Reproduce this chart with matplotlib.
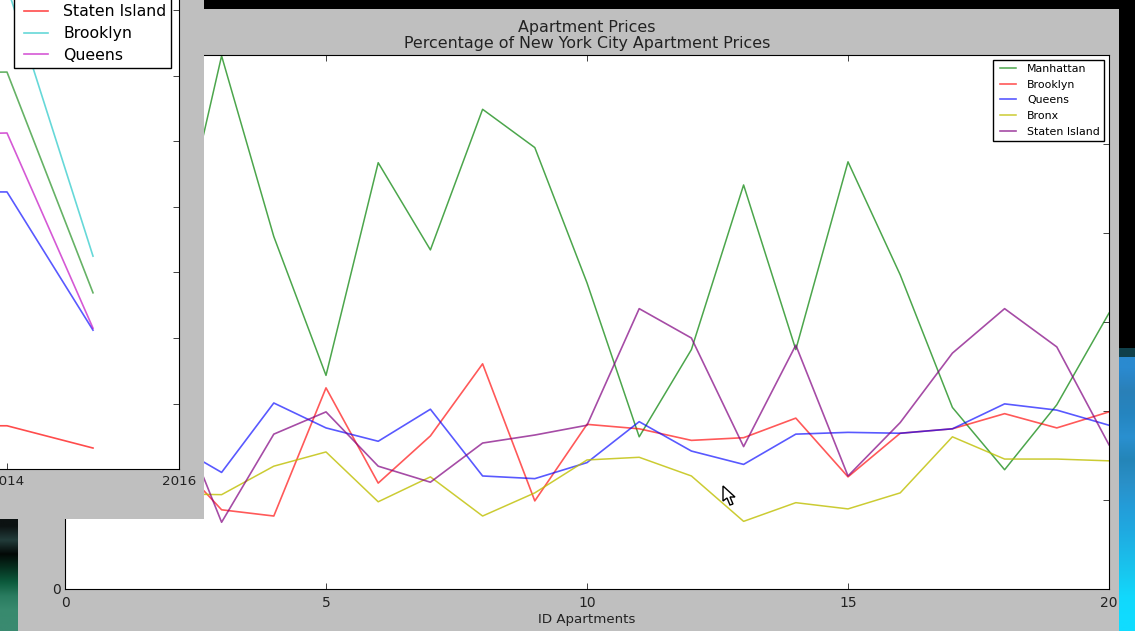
import matplotlib
matplotlib.use('Agg')
from matplotlib import pyplot as plt
from matplotlib.lines import Line2D
from matplotlib.legend_handler import HandlerLine2D
from matplotlib.patches import Rectangle, Polygon
import numpy as np

W, H = 1135, 631

# main window data
ids = list(range(2, 21))
manhattan = [34.3, 59.9, 39.6, 24.0, 47.9, 38.1, 53.9, 49.6, 34.4, 17.1, 26.9, 45.4, 26.9, 48.0, 35.3, 20.4, 13.4, 20.7, 31.0]
brooklyn = [15.2, 8.9, 8.2, 22.6, 11.9, 17.2, 25.3, 9.9, 18.5, 18.0, 16.7, 17.0, 19.2, 12.6, 17.5, 18.0, 19.7, 18.1, 19.9]
queens = [16.5, 13.1, 20.9, 18.1, 16.6, 20.2, 12.7, 12.4, 14.2, 18.8, 15.5, 14.0, 17.4, 17.6, 17.5, 18.0, 20.8, 20.1, 18.4]
bronx = [10.7, 10.6, 13.8, 15.4, 9.8, 12.6, 8.2, 10.8, 14.5, 14.8, 12.7, 7.6, 9.7, 9.0, 10.8, 17.1, 14.6, 14.6, 14.4]
staten = [22.1, 7.5, 17.4, 19.9, 13.8, 12.0, 16.4, 17.3, 18.4, 31.5, 28.2, 16.0, 27.4, 12.7, 18.7, 26.5, 31.5, 27.2, 16.2]

# window in front, yearly values
years = [2013, 2014, 2015]
front_manhattan = [42.3, 42.3, 21.2]
front_bronx = [60.5, 60.6, 26.9]
front_staten = [6.6, 6.6, 3.2]
front_brooklyn = [73.0, 73.7, 32.5]
front_queens = [51.0, 51.3, 21.5]

# wallpaper colours showing behind the windows
right_strip = ['#2a8ad0', '#2a80b8', '#2585c0', '#2a90d0', '#2485b8', '#2a90c8', '#249cd8', '#20a8e0', '#1cb8e8', '#18c8f0', '#12d8fc', '#10dcff']
left_strip = ['#0c1212', '#223c3a', '#020806', '#06301f', '#0c5a3c', '#2a7c60', '#388a6e', '#3a8a70']


def box(x0, y0, x1, y1):
    # pixels from top left to figure fractions
    return [x0 / W, 1 - y1 / H, (x1 - x0) / W, (y1 - y0) / H]


def strip_colors(names):
    return np.array([matplotlib.colors.to_rgb(c) for c in names])[:, None, :]


fig = plt.figure(figsize=(W / 100, H / 100), dpi=100, facecolor='black')

bg = fig.add_axes(box(1119, 357, 1135, 631), zorder=0)
bg.imshow(strip_colors(right_strip), aspect='auto', interpolation='bilinear')
bg.axis('off')
bg = fig.add_axes(box(0, 519, 18, 631), zorder=0)
bg.imshow(strip_colors(left_strip), aspect='auto', interpolation='bilinear')
bg.axis('off')
fig.add_artist(Rectangle((1119 / W, 1 - 357 / H), 16 / W, 9 / H, transform=fig.transFigure, color='#10404a', lw=0, zorder=0))

fig.add_artist(Rectangle((18 / W, 0), (1119 - 18) / W, 1 - 9 / H, transform=fig.transFigure, color='#bfbfbf', lw=0, zorder=1))

ax = fig.add_axes(box(65, 55, 1109, 589), zorder=2)
ax.plot(ids, manhattan, color='g', alpha=0.7, lw=1.1, label='Manhattan')
ax.plot(ids, brooklyn, color='r', alpha=0.65, lw=1.2, label='Brooklyn')
ax.plot(ids, queens, color='b', alpha=0.65, lw=1.2, label='Queens')
ax.plot(ids, bronx, color='y', alpha=0.8, lw=1.1, label='Bronx')
ax.plot(ids, staten, color='purple', alpha=0.7, lw=1.2, label='Staten Island')
ax.set_xlim(0, 20)
ax.set_ylim(0, 60)
ax.set_xticks([0, 5, 10, 15, 20])
ax.set_yticks([0, 10, 20, 30, 40, 50, 60])
ax.tick_params(direction='in', top=True, right=True, length=4, width=0.6, labelsize=10, pad=3, colors='#222222')
ax.tick_params(axis='x', pad=5)
ax.set_xlabel('ID Apartments', fontsize=9.6, labelpad=2, color='#222222')
ax.set_title('Apartment Prices\nPercentage of New York City Apartment Prices', fontsize=11.4, pad=5, linespacing=1.05, color='#222222')
ax.legend(loc='upper right', fontsize=7.9, handlelength=1.73, handletextpad=1.0, labelspacing=0.52, borderpad=0.36, borderaxespad=0.45,
          fancybox=False, framealpha=1, edgecolor='black', handler_map={Line2D: HandlerLine2D(xpad=0.27)})

# window lying over the main one
fig.add_artist(Rectangle((0, 1 - 519 / H), 204 / W, 519 / H, transform=fig.transFigure, color='#bfbfbf', lw=0, zorder=3))
ax2 = fig.add_axes(box(-165, -55, 179, 469), zorder=4)
ax2.plot(years, front_manhattan, color='b', alpha=0.65, lw=1.2, label='Manhattan')
ax2.plot(years, front_bronx, color='g', alpha=0.6, lw=1.2, label='Bronx')
ax2.plot(years, front_staten, color='r', alpha=0.7, lw=1.2, label='Staten Island')
ax2.plot(years, front_brooklyn, color='c', alpha=0.6, lw=1.2, label='Brooklyn')
ax2.plot(years, front_queens, color='m', alpha=0.65, lw=1.2, label='Queens')
ax2.set_xlim(2012, 2016)
ax2.set_ylim(0, 80)
ax2.set_xticks([2012, 2014, 2016])
ax2.set_yticks(range(0, 81, 10))
ax2.tick_params(direction='in', top=True, right=True, length=4, width=0.6, labelsize=9.7, pad=4, colors='#222222')
ax2.legend(loc='upper right', bbox_to_anchor=(1.0, 0.995), fontsize=11.3, handlelength=1.9, handletextpad=0.95, labelspacing=0.44, borderpad=0.3, borderaxespad=0.51,
           fancybox=False, framealpha=1, edgecolor='black', handler_map={Line2D: HandlerLine2D(xpad=0.38)})

# mouse pointer from the screenshot
cursor = [(723, 486), (723, 501), (727, 498), (730, 505), (733, 504), (730, 497), (735, 497)]
fig.add_artist(Polygon([(x / W, 1 - y / H) for x, y in cursor], closed=True, transform=fig.transFigure, facecolor='white', edgecolor='black', lw=1, zorder=5))

fig.savefig('out.png', dpi=100, facecolor='black')
